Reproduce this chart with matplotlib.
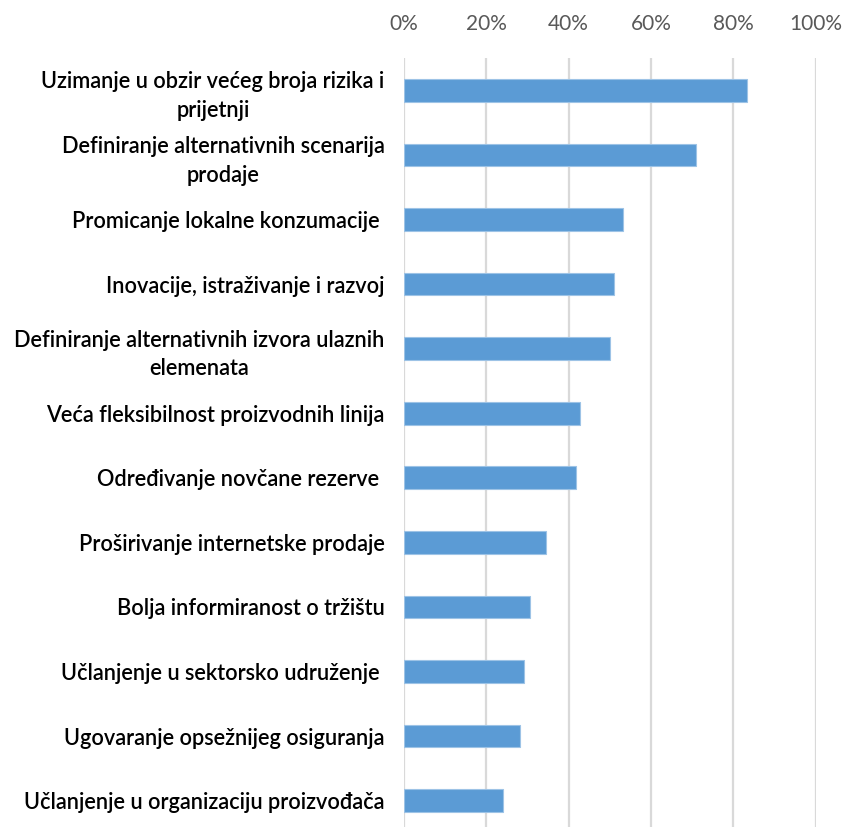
import numpy as np
import matplotlib.pyplot as plt
from matplotlib.ticker import PercentFormatter

plt.rcParams['font.family'] = ['Lato', 'DejaVu Sans']

labels = [
    'Uzimanje u obzir većeg broja rizika i\nprijetnji',
    'Definiranje alternativnih scenarija\nprodaje',
    'Promicanje lokalne konzumacije ',
    'Inovacije, istraživanje i razvoj',
    'Definiranje alternativnih izvora ulaznih\nelemenata',
    'Veća fleksibilnost proizvodnih linija',
    'Određivanje novčane rezerve ',
    'Proširivanje internetske prodaje',
    'Bolja informiranost o tržištu',
    'Učlanjenje u sektorsko udruženje ',
    'Ugovaranje opsežnijeg osiguranja',
    'Učlanjenje u organizaciju proizvođača',
]
values = [83.4, 71.0, 53.2, 51.1, 50.1, 42.7, 41.8, 34.5, 30.5, 29.2, 28.2, 24.0]

fig = plt.figure(figsize=(8.44, 8.27), dpi=100)
ax = fig.add_axes([404 / 844, 1 - 833 / 827, (815.7 - 404) / 844, (833 - 58) / 827])

y = np.arange(len(labels))
ax.barh(y, values, height=0.35, color='#5B9BD5', edgecolor='#9DC3E6', linewidth=0.8, zorder=3)

ax.set_xlim(0, 100)
ax.set_ylim(len(labels) - 0.5, -0.5)
ax.xaxis.tick_top()
ax.set_xticks(np.arange(0, 101, 20))
ax.xaxis.set_major_formatter(PercentFormatter(decimals=0))
ax.tick_params(axis='x', length=0, pad=17, labelsize=15, labelcolor='#595959')
ax.set_yticks(y)
ax.set_yticklabels(labels, fontsize=15.7, fontweight='semibold', color='black',
                   multialignment='center', linespacing=1.45)
ax.tick_params(axis='y', length=0, pad=14)
ax.grid(axis='x', color='#D9D9D9', linewidth=1.6, zorder=0)
for s in ax.spines.values():
    s.set_visible(False)

fig.savefig('out.png', dpi=100)
